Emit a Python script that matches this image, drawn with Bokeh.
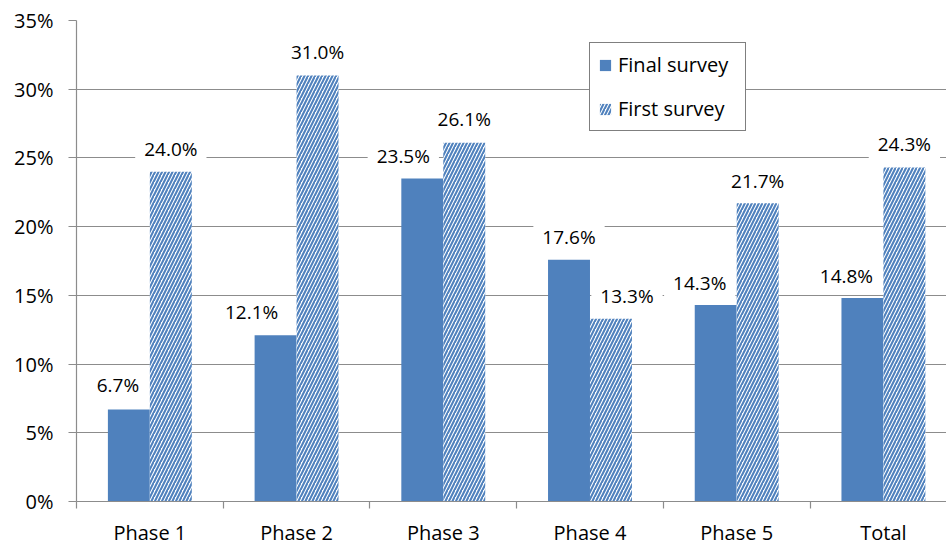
from bokeh.plotting import figure
from bokeh.models import (ColumnDataSource, Range1d, FixedTicker, PrintfTickFormatter,
                          Legend, LegendItem)
from bokeh.core.properties import value
from bokeh.embed import file_html
from bokeh.resources import INLINE

# ---- data ----
categories = ["Phase 1", "Phase 2", "Phase 3", "Phase 4", "Phase 5", "Total"]
final_survey = [6.7, 12.1, 23.5, 17.6, 14.3, 14.8]
first_survey = [24.0, 31.0, 26.1, 13.3, 21.7, 24.3]
y_ticks = [0, 5, 10, 15, 20, 25, 30, 35]

# ---- style ----
BLUE = "#4F81BD"
GRID = "#8C8C8C"
FONT = "Open Sans"
BAR_W = 0.286
DODGE = 0.143
# label nudges (screen px) to reproduce the manual placements of the original
final_dx = [-11, -24, -19, 0, -16, -16]
first_dx = [0, 0, 0, 16, 0, 0]
final_dy = [-24, -23, -23, -23, -22, -22]
first_dy = [-23, -23, -24, -23, -22, -24]

centers = [i + 0.5 for i in range(len(categories))]
boundaries = list(range(len(categories) + 1))

src_final = ColumnDataSource(dict(
    x=[c - DODGE for c in centers], top=final_survey,
    label=[f"{v:.1f}%" for v in final_survey], dx=final_dx, dy=final_dy))
src_first = ColumnDataSource(dict(
    x=[c + DODGE for c in centers], top=first_survey,
    label=[f"{v:.1f}%" for v in first_survey], dx=first_dx, dy=first_dy))

p = figure(width=946, height=548, output_backend="svg", toolbar_location=None,
           x_range=Range1d(0, 5.93), y_range=Range1d(0, 35),
           min_border_left=76, min_border_right=0, min_border_top=20,
           min_border_bottom=43)
p.outline_line_color = None
p.background_fill_color = "white"
p.border_fill_color = "white"

r_final = p.vbar(x="x", top="top", width=BAR_W, source=src_final,
                 fill_color=BLUE, line_color=None)
r_first = p.vbar(x="x", top="top", width=BAR_W, source=src_first,
                 fill_color="white", line_color=None,
                 hatch_pattern="right_diagonal_line", hatch_color=BLUE,
                 hatch_scale=7, hatch_weight=2.1)

for src in (src_final, src_first):
    p.text(x="x", y="top", text="label", source=src,
           x_offset="dx", y_offset="dy",
           text_font=value(FONT), text_font_size="19px", text_color="black",
           text_align="center", text_baseline="middle",
           background_fill_color="white", padding=dict(x=9, y=2))

# axes
p.xgrid.visible = False
p.ygrid.grid_line_color = GRID
p.ygrid.grid_line_width = 1.2
p.ygrid.ticker = FixedTicker(ticks=y_ticks)

p.yaxis.ticker = FixedTicker(ticks=y_ticks)
p.yaxis.formatter = PrintfTickFormatter(format="%d%%")
p.yaxis.axis_line_color = GRID
p.yaxis.axis_line_width = 1.2
p.yaxis.major_tick_line_color = GRID
p.yaxis.major_tick_line_width = 1.2
p.yaxis.major_tick_out = 8
p.yaxis.major_tick_in = 0
p.yaxis.minor_tick_line_color = None
p.yaxis.major_label_standoff = 15
p.yaxis.major_label_text_font = FONT
p.yaxis.major_label_text_font_size = "20px"
p.yaxis.major_label_text_color = "black"

p.xaxis.ticker = FixedTicker(ticks=centers, minor_ticks=boundaries)
p.xaxis.major_label_overrides = {c: name for c, name in zip(centers, categories)}
p.xaxis.axis_line_color = GRID
p.xaxis.axis_line_width = 1.2
p.xaxis.major_tick_line_color = None
p.xaxis.minor_tick_line_color = GRID
p.xaxis.minor_tick_line_width = 1.2
p.xaxis.minor_tick_out = 7
p.xaxis.minor_tick_in = 0
p.xaxis.major_label_standoff = 10
p.xaxis.major_label_text_font = FONT
p.xaxis.major_label_text_font_size = "20px"
p.xaxis.major_label_text_color = "black"

legend = Legend(items=[LegendItem(label="Final survey", renderers=[r_final]),
                       LegendItem(label="First survey", renderers=[r_first])],
                location=(513, 370), orientation="vertical",
                label_text_font=FONT, label_text_font_size="20px",
                label_text_color="black", label_width=119,
                glyph_width=14, glyph_height=14, label_standoff=6,
                padding=8, spacing=17, margin=0,
                border_line_color="black", border_line_width=1.5,
                background_fill_color="white", background_fill_alpha=1.0)
p.add_layout(legend, "center")

open("out.html", "w").write(file_html(p, INLINE))
